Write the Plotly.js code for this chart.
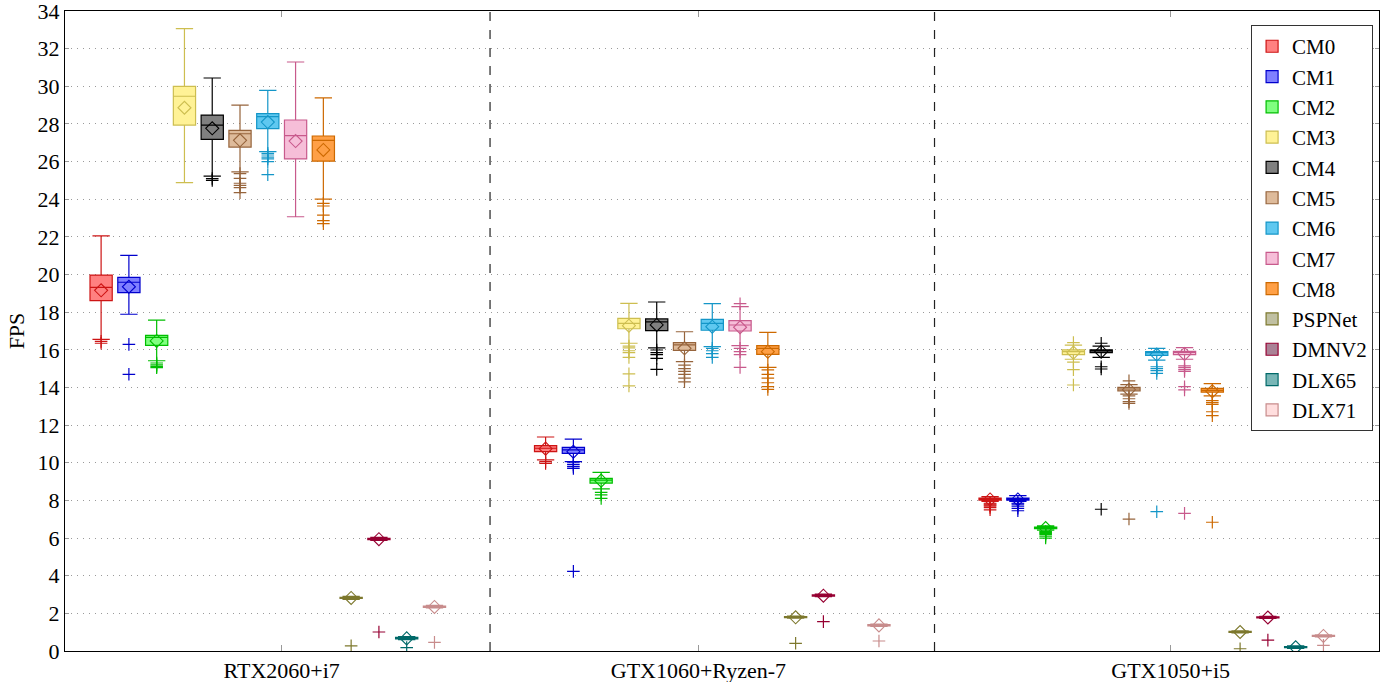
<!DOCTYPE html>
<html>
<head>
<meta charset="utf-8">
<script src="https://cdn.plot.ly/plotly-3.0.1.min.js"></script>
<style>html,body{margin:0;padding:0;background:#fff;}#chart{width:1394px;height:682px;}</style>
</head>
<body>
<div id="chart"></div>
<script>
// ---------- DATA ----------
const categories = ['RTX2060+i7', 'GTX1060+Ryzen-7', 'GTX1050+i5'];
const seriesNames = ['CM0','CM1','CM2','CM3','CM4','CM5','CM6','CM7','CM8','PSPNet','DMNV2','DLX65','DLX71'];

// per series: [RTX2060+i7, GTX1060+Ryzen-7, GTX1050+i5]  (null = not available)
const lowerWhisker = [
  [16.56, 10.15, 7.95], [17.89, 10.06, 7.95], [15.42, 8.61, 6.42], [24.88, 16.35, 15.5],
  [25.23, 16.10, 15.6], [25.45, 15.37, 13.65], [26.53, 16.17, 15.45], [23.07, 16.22, 15.5],
  [24.01, 15.07, 13.55], [2.74, 1.74, 0.96], [5.87, 2.89, 1.73], [0.60, null, 0.14], [2.29, 1.31, 0.75]
];
const q1 = [
  [18.61, 10.59, 8.02], [19.04, 10.50, 8.02], [16.24, 8.92, 6.50], [27.94, 17.12, 15.75],
  [27.18, 17.02, 15.85], [26.77, 15.97, 13.82], [27.75, 17.04, 15.70], [26.14, 17.00, 15.75],
  [26.02, 15.76, 13.75], [2.79, 1.77, 0.99], [5.91, 2.92, 1.76], [0.64, null, 0.18], [2.32, 1.34, 0.78]
];
const median = [
  [19.32, 10.77, 8.08], [19.59, 10.68, 8.08], [16.66, 9.08, 6.55], [29.47, 17.41, 15.90],
  [27.94, 17.48, 15.95], [27.48, 16.26, 13.92], [28.39, 17.41, 15.85], [27.38, 17.32, 15.87],
  [27.13, 16.08, 13.85], [2.82, 1.80, 1.01], [5.95, 2.95, 1.78], [0.68, null, 0.20], [2.35, 1.37, 0.80]
];
const q3 = [
  [19.97, 10.91, 8.12], [19.85, 10.82, 8.12], [16.77, 9.17, 6.58], [30.00, 17.67, 16.00],
  [28.47, 17.64, 16.00], [27.66, 16.38, 14.00], [28.55, 17.62, 15.90], [28.21, 17.55, 15.92],
  [27.36, 16.22, 13.95], [2.85, 1.83, 1.04], [5.98, 2.98, 1.81], [0.72, null, 0.23], [2.38, 1.40, 0.83]
];
const upperWhisker = [
  [22.05, 11.37, 8.20], [21.02, 11.26, 8.25], [17.58, 9.49, 6.65], [33.06, 18.47, 16.25],
  [30.44, 18.54, 16.20], [29.00, 16.96, 14.15], [29.78, 18.45, 16.08], [31.29, 18.30, 16.12],
  [29.38, 16.93, 14.20], [2.90, 1.86, 1.07], [6.04, 3.02, 1.84], [0.77, null, 0.27], [2.42, 1.43, 0.86]
];
const meanValue = [
  [19.16, 10.75, 8.05], [19.35, 10.59, 8.05], [16.47, 9.05, 6.53], [28.86, 17.28, 15.85],
  [27.77, 17.32, 15.90], [27.13, 16.08, 13.88], [28.10, 17.23, 15.75], [27.09, 17.20, 15.78],
  [26.62, 15.90, 13.80], [2.82, 1.79, 1.01], [5.94, 2.94, 1.78], [0.67, null, 0.20], [2.34, 1.36, 0.80]
];
const outliers = [
  [[16.45, 16.35], [10.06, 9.97], [7.85, 7.8, 7.75, 7.7, 7.62, 7.5]],
  [[16.29, 14.70], [10.0, 9.9, 9.8, 9.7, 4.23], [7.85, 7.8, 7.7, 7.58, 7.45]],
  [[15.3, 15.2, 15.12, 15.05], [8.43, 8.29, 8.11], [6.35, 6.3, 6.25, 6.2, 6.1, 6.0]],
  [[], [16.2, 16.1, 15.95, 15.85, 15.6, 14.72, 14.08], [16.38, 15.35, 14.95, 14.13]],
  [[25.1, 25.0], [15.99, 15.85, 15.75, 15.55, 14.96], [16.35, 15.1, 14.98, 7.53]],
  [[25.36, 25.11, 24.85, 24.74, 24.62, 24.35], [15.19, 15.0, 14.85, 14.7, 14.5, 14.3], [14.35, 13.55, 13.4, 13.25, 13.15, 7.01]],
  [[26.44, 26.35, 26.24, 26.14, 26.0, 25.31], [16.08, 15.95, 15.8, 15.6], [15.1, 15.0, 14.9, 14.75, 7.40]],
  [[], [18.45, 16.08, 15.9, 15.75, 15.07], [15.15, 15.05, 14.95, 14.85, 14.04, 13.87, 7.31]],
  [[23.78, 23.64, 23.16, 22.86, 22.7], [14.93, 14.7, 14.5, 14.25, 14.05, 13.9], [13.3, 13.2, 13.1, 12.71, 12.5, 6.84]],
  [[0.27], [0.41], [0.12]],
  [[1.01], [1.56], [0.58]],
  [[0.18], [], []],
  [[0.46], [0.53], [0.30]]
];

// ---------- STYLE ----------
const lineColors = ['rgb(205,20,20)','rgb(0,0,205)','rgb(0,190,0)','rgb(205,190,80)','rgb(0,0,0)',
  'rgb(150,100,60)','rgb(20,150,200)','rgb(200,90,140)','rgb(205,105,0)','rgb(125,120,45)',
  'rgb(150,0,50)','rgb(0,105,105)','rgb(200,140,140)'];
const fillColors = ['rgb(255,128,128)','rgb(128,128,255)','rgb(128,255,128)','rgb(255,242,150)','rgb(128,128,128)',
  'rgb(222,187,155)','rgb(95,200,240)','rgb(246,190,216)','rgb(255,160,70)','rgb(192,192,162)',
  'rgb(170,130,150)','rgb(120,182,182)','rgb(255,222,222)'];
const groupStart = [2, 18, 34];
const FONT = '"Liberation Serif", "Times New Roman", serif';

const traces = [];
const meanTraces = [];
const outTraces = [];
seriesNames.forEach((name, s) => {
  const xs = [], lo = [], a = [], m = [], b = [], hi = [], mx = [], my = [], ox = [], oy = [];
  categories.forEach((c, g) => {
    const pos = groupStart[g] + s;
    if (median[s][g] !== null) {
      xs.push(pos); lo.push(lowerWhisker[s][g]); a.push(q1[s][g]); m.push(median[s][g]);
      b.push(q3[s][g]); hi.push(upperWhisker[s][g]);
      mx.push(pos); my.push(meanValue[s][g]);
    }
    outliers[s][g].forEach(v => { ox.push(pos); oy.push(v); });
  });
  traces.push({
    type: 'box', name: name, x: xs, q1: a, median: m, q3: b, lowerfence: lo, upperfence: hi,
    width: 0.8, whiskerwidth: 0.78, boxpoints: false, boxmean: false,
    line: {color: lineColors[s], width: 1.2}, fillcolor: fillColors[s],
    legendgroup: 'g' + s, hoverinfo: 'skip'
  });
  meanTraces.push({
    type: 'scatter', mode: 'markers', x: mx, y: my, showlegend: false, legendgroup: 'g' + s,
    marker: {symbol: 'diamond-open', size: 10, color: lineColors[s], line: {width: 1.1, color: lineColors[s]}},
    hoverinfo: 'skip'
  });
  outTraces.push({
    type: 'scatter', mode: 'markers', x: ox, y: oy, showlegend: false, legendgroup: 'g' + s,
    marker: {symbol: 'cross-thin-open', size: 9, color: lineColors[s], line: {width: 1.2, color: lineColors[s]}},
    hoverinfo: 'skip'
  });
});

const layout = {
  width: 1394, height: 682,
  margin: {l: 65, r: 15, t: 11, b: 31},
  paper_bgcolor: '#fff', plot_bgcolor: '#fff',
  font: {family: FONT, size: 22, color: '#000'},
  boxmode: 'overlay',
  showlegend: true,
  legend: {
    x: 0.9955, xanchor: 'right', y: 0.978, yanchor: 'top',
    bgcolor: '#fff', bordercolor: '#333', borderwidth: 1,
    font: {family: FONT, size: 21, color: '#000'},
    tracegroupgap: 0, itemwidth: 30
  },
  xaxis: {
    range: [0.7, 48], tickmode: 'array', tickvals: [8.5, 23.5, 40.5], ticktext: categories,
    showgrid: false, zeroline: false, showline: true, linecolor: '#000', linewidth: 1,
    mirror: 'ticks', ticks: 'inside', ticklen: 6, tickcolor: '#999', tickwidth: 1,
    tickfont: {family: FONT, size: 22, color: '#000'}
  },
  yaxis: {
    range: [0, 34], dtick: 2, tick0: 0, ticklabeloverflow: 'allow',
    title: {text: 'FPS', font: {family: FONT, size: 22, color: '#000'}, standoff: 6},
    showgrid: true, gridcolor: '#9a9a9a', griddash: '1px,5px', gridwidth: 1,
    zeroline: false, showline: true, linecolor: '#000', linewidth: 1,
    mirror: 'ticks', ticks: 'inside', ticklen: 4, tickcolor: '#999', tickwidth: 1,
    tickfont: {family: FONT, size: 22, color: '#000'}
  },
  shapes: [16, 32].map(v => ({
    type: 'line', xref: 'x', yref: 'paper', x0: v, x1: v, y0: 0, y1: 1,
    line: {color: '#222', width: 1.2, dash: 'dash'}, layer: 'below'
  }))
};

Plotly.newPlot('chart', traces.concat(meanTraces, outTraces), layout, {staticPlot: true, displayModeBar: false});
</script>
</body>
</html>
